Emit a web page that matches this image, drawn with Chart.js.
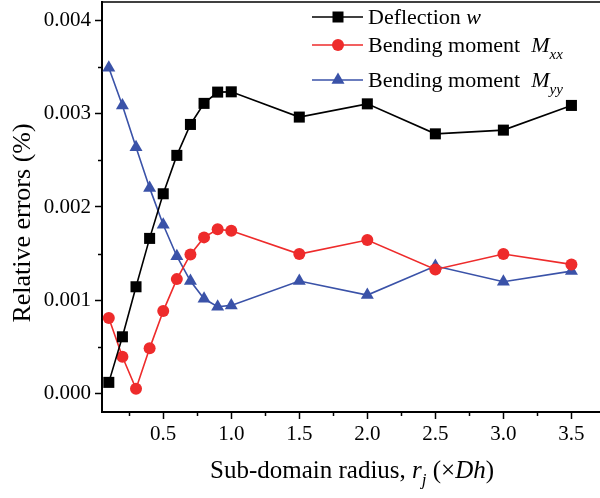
<!DOCTYPE html>
<html>
<head>
<meta charset="utf-8">
<script src="https://cdn.jsdelivr.net/npm/chart.js@4.4.1/dist/chart.umd.min.js"></script>
<style>
  html, body { margin: 0; padding: 0; background: #fff; }
  #wrap { width: 600px; height: 498px; }
</style>
</head>
<body>
<div id="wrap"><canvas id="chart"></canvas></div>
<script>
// sub-domain radius r_j (x Dh)
const radius = [0.1, 0.2, 0.3, 0.4, 0.5, 0.6, 0.7, 0.8, 0.9, 1.0, 1.5, 2.0, 2.5, 3.0, 3.5];

// relative errors (%)
const deflectionW = [0.000118, 0.000607, 0.001144, 0.001663, 0.002142, 0.002554, 0.002886, 0.003112,
  0.003233, 0.003236, 0.002965, 0.003107, 0.002785, 0.002825, 0.00309];
const momentMxx = [0.000808, 0.000393, 0.000049, 0.000483, 0.000883, 0.001226, 0.001491, 0.001674,
  0.00176, 0.001745, 0.001495, 0.001645, 0.00133, 0.001495, 0.001384];
const momentMyy = [0.003495, 0.00309, 0.00264, 0.002205, 0.00181, 0.001472, 0.001205, 0.001015,
  0.00093, 0.000944, 0.001205, 0.001055, 0.001366, 0.001198, 0.001312];

const xTicks = [0.5, 1.0, 1.5, 2.0, 2.5, 3.0, 3.5];
const yTicks = [0.000, 0.001, 0.002, 0.003, 0.004];
const xMinor = [0.25, 0.75, 1.25, 1.75, 2.25, 2.75, 3.25];
const yMinor = [0.0005, 0.0015, 0.0025, 0.0035];

const RED = '#ee2b2b';
const BLUE = '#3a52a8';
const SERIF = '"Liberation Serif", "Times New Roman", serif';

function pts(ys) {
  return radius.map((x, i) => ({ x: x, y: ys[i] }));
}

function marker(ctx, style, x, y, color) {
  ctx.save();
  ctx.fillStyle = color;
  ctx.beginPath();
  if (style === 'rect') {
    ctx.rect(x - 5.5, y - 5.5, 11, 11);
  } else if (style === 'circle') {
    ctx.arc(x, y, 6, 0, Math.PI * 2);
  } else {
    ctx.moveTo(x, y - 7.5);
    ctx.lineTo(x + 6.5, y + 3.75);
    ctx.lineTo(x - 6.5, y + 3.75);
    ctx.closePath();
  }
  ctx.fill();
  ctx.restore();
}

// draws a run of [text, font, dy] pieces left to right
function drawRuns(ctx, x, y, runs) {
  runs.forEach(r => {
    ctx.font = r[1];
    ctx.fillText(r[0], x, y + (r[2] || 0));
    x += ctx.measureText(r[0]).width;
  });
  return x;
}

// no extra room around the plot for half-labels
function noScalePadding(s) {
  s.paddingLeft = 0;
  s.paddingRight = 0;
  s.paddingTop = 0;
  s.paddingBottom = 0;
}

const decorations = {
  id: 'decorations',
  afterDraw(chart) {
    const ctx = chart.ctx;
    const area = chart.chartArea;
    const xs = chart.scales.x, ys = chart.scales.y;
    ctx.save();
    ctx.strokeStyle = '#000';

    // top frame line
    ctx.lineWidth = 1.5;
    ctx.beginPath();
    ctx.moveTo(area.left, area.top);
    ctx.lineTo(area.right, area.top);
    ctx.stroke();

    // minor ticks
    ctx.lineWidth = 1.5;
    xMinor.forEach(v => {
      const px = Math.round(xs.getPixelForValue(v)) + 0.5;
      ctx.beginPath();
      ctx.moveTo(px, area.bottom);
      ctx.lineTo(px, area.bottom + 4);
      ctx.stroke();
    });
    yMinor.forEach(v => {
      const py = Math.round(ys.getPixelForValue(v)) + 0.5;
      ctx.beginPath();
      ctx.moveTo(area.left, py);
      ctx.lineTo(area.left - 4, py);
      ctx.stroke();
    });

    // axis titles
    ctx.fillStyle = '#000';
    ctx.textBaseline = 'alphabetic';
    ctx.textAlign = 'left';
    const fs = 25;
    drawRuns(ctx, 210, 478, [
      ['Sub-domain radius, ', fs + 'px ' + SERIF],
      ['r', 'italic ' + fs + 'px ' + SERIF],
      ['j', 'italic 17px ' + SERIF, 7],
      [' (\u00d7', fs + 'px ' + SERIF],
      ['Dh', 'italic ' + fs + 'px ' + SERIF],
      [')', fs + 'px ' + SERIF]
    ]);

    ctx.save();
    ctx.translate(30, 223);
    ctx.rotate(-Math.PI / 2);
    ctx.textAlign = 'center';
    ctx.font = '26px ' + SERIF;
    ctx.fillText('Relative errors (%)', 0, 0);
    ctx.restore();

    // legend
    const rows = [
      { y: 17, color: '#000', style: 'rect', runs: [['Deflection ', '22px ' + SERIF], ['w', 'italic 22px ' + SERIF]] },
      { y: 45, color: RED, style: 'circle', runs: [['Bending moment  ', '22px ' + SERIF], ['M', 'italic 22px ' + SERIF], ['xx', 'italic 15px ' + SERIF, 7]] },
      { y: 80, color: BLUE, style: 'triangle', runs: [['Bending moment  ', '22px ' + SERIF], ['M', 'italic 22px ' + SERIF], ['yy', 'italic 15px ' + SERIF, 7]] }
    ];
    rows.forEach(r => {
      ctx.strokeStyle = r.color;
      ctx.lineWidth = 1.6;
      ctx.beginPath();
      ctx.moveTo(312, r.y);
      ctx.lineTo(363, r.y);
      ctx.stroke();
      marker(ctx, r.style, 338, r.y, r.color);
      ctx.fillStyle = '#000';
      drawRuns(ctx, 368, r.y + 7, r.runs);
    });
    ctx.restore();
  }
};

new Chart(document.getElementById('chart').getContext('2d'), {
  type: 'scatter',
  data: {
    datasets: [
      {
        label: 'Deflection w',
        data: pts(deflectionW),
        borderColor: '#000',
        backgroundColor: '#000',
        pointStyle: 'rect',
        pointRadius: 7.8
      },
      {
        label: 'Bending moment Mxx',
        data: pts(momentMxx),
        borderColor: RED,
        backgroundColor: RED,
        pointStyle: 'circle',
        pointRadius: 6
      },
      {
        label: 'Bending moment Myy',
        data: pts(momentMyy),
        borderColor: BLUE,
        backgroundColor: BLUE,
        pointStyle: 'triangle',
        pointRadius: 7.5
      }
    ].map(d => Object.assign(d, {
      showLine: true,
      borderWidth: 1.6,
      pointBorderWidth: 0,
      pointHoverRadius: d.pointRadius,
      tension: 0
    }))
  },
  options: {
    responsive: true,
    maintainAspectRatio: false,
    animation: false,
    layout: { autoPadding: false, padding: { top: 2, right: 0, left: 0, bottom: 0 } },
    plugins: {
      legend: { display: false },
      tooltip: { enabled: false }
    },
    scales: {
      x: {
        type: 'linear',
        min: 0.05,
        max: 3.71,
        afterBuildTicks: s => { s.ticks = xTicks.map(v => ({ value: v })); },
        afterFit: s => { s.height = 86; noScalePadding(s); },
        border: { color: '#000', width: 2 },
        grid: { drawOnChartArea: false, tickLength: 7, tickWidth: 1.5, tickColor: '#000' },
        ticks: {
          color: '#000',
          padding: 3,
          maxRotation: 0,
          font: { family: SERIF, size: 21 },
          callback: v => v.toFixed(1)
        }
      },
      y: {
        type: 'linear',
        min: -0.0002,
        max: 0.0042,
        afterBuildTicks: s => { s.ticks = yTicks.map(v => ({ value: v })); },
        afterFit: s => { s.width = 102; noScalePadding(s); },
        border: { color: '#000', width: 2 },
        grid: { drawOnChartArea: false, tickLength: 7, tickWidth: 1.5, tickColor: '#000' },
        ticks: {
          color: '#000',
          padding: 4,
          font: { family: SERIF, size: 21 },
          callback: v => v.toFixed(3)
        }
      }
    }
  },
  plugins: [decorations]
});
</script>
</body>
</html>
